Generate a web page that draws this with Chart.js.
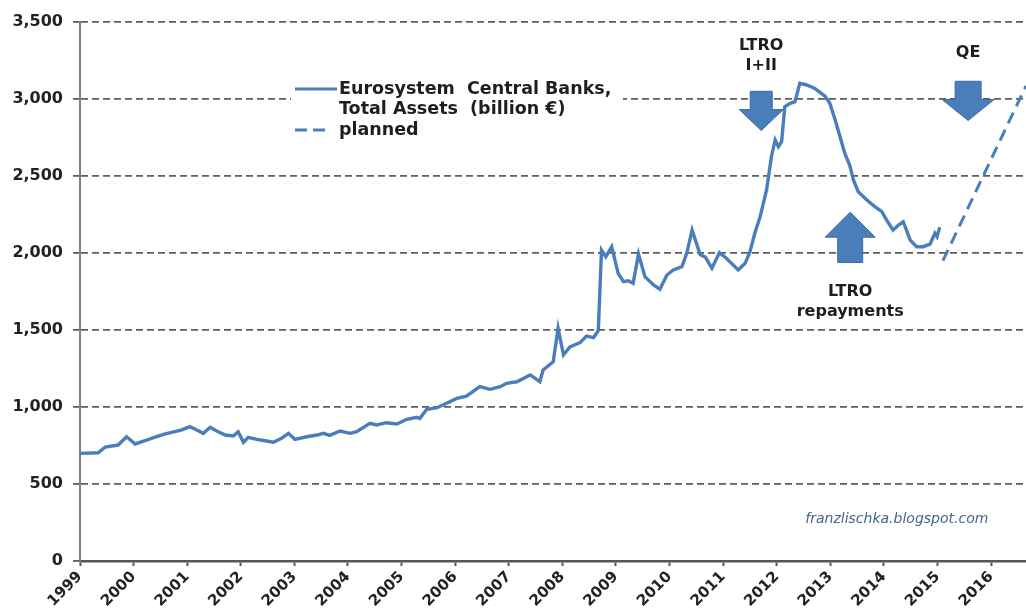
<!DOCTYPE html>
<html>
<head>
<meta charset="utf-8">
<script src="https://cdn.jsdelivr.net/npm/chart.js@4"></script>
<style>
  body { margin: 0; background: #fff; }
</style>
</head>
<body>
<canvas id="assetsChart" width="1026" height="616"></canvas>
<script>
// Eurosystem total assets, billion EUR
const years = [
    1999.00, 1999.34, 1999.47, 1999.71, 1999.87, 2000.03, 2000.21, 2000.40, 2000.59, 2000.77,
    2000.90, 2001.05, 2001.18, 2001.30, 2001.43, 2001.55, 2001.71, 2001.86, 2001.95, 2002.05,
    2002.14, 2002.30, 2002.45, 2002.61, 2002.76, 2002.89, 2003.01, 2003.23, 2003.42, 2003.54,
    2003.66, 2003.85, 2004.04, 2004.16, 2004.41, 2004.53, 2004.72, 2004.91, 2005.10, 2005.28,
    2005.34, 2005.47, 2005.65, 2005.84, 2006.03, 2006.21, 2006.46, 2006.65, 2006.84, 2006.96,
    2007.15, 2007.40, 2007.58, 2007.64, 2007.83, 2007.92, 2008.02, 2008.14, 2008.33, 2008.45,
    2008.58, 2008.67, 2008.73, 2008.81, 2008.92, 2009.04, 2009.14, 2009.23, 2009.32, 2009.42,
    2009.54, 2009.70, 2009.82, 2009.95, 2010.07, 2010.23, 2010.32, 2010.42, 2010.57, 2010.67,
    2010.79, 2010.93, 2011.06, 2011.28, 2011.41, 2011.50, 2011.59, 2011.69, 2011.81, 2011.90,
    2011.97, 2012.03, 2012.09, 2012.15, 2012.25, 2012.34, 2012.43, 2012.56, 2012.71, 2012.90,
    2012.99, 2013.09, 2013.18, 2013.27, 2013.36, 2013.43, 2013.52, 2013.68, 2013.83, 2013.96,
    2014.05, 2014.17, 2014.27, 2014.36, 2014.49, 2014.61, 2014.73, 2014.86, 2014.95, 2014.99, 2015.04
];
const totalAssets = [
    699, 703, 740, 753, 807, 760, 781, 805, 825, 840,
    851, 872, 851, 829, 868, 844, 818, 812, 840, 771,
    803, 790, 781, 771, 797, 829, 790, 807, 818, 829,
    816, 844, 829, 840, 894, 883, 898, 890, 920, 933,
    926, 985, 994, 1024, 1056, 1071, 1132, 1115, 1132, 1154,
    1164, 1208, 1164, 1240, 1294, 1511, 1338, 1390, 1418, 1460,
    1450, 1495, 2019, 1976, 2041, 1868, 1814, 1820, 1803, 1993,
    1846, 1792, 1765, 1857, 1890, 1911, 1998, 2149, 1990, 1972,
    1901, 2002, 1966, 1890, 1933, 2009, 2128, 2236, 2409, 2625,
    2734, 2690, 2723, 2950, 2972, 2983, 3102, 3091, 3069, 3019,
    2972, 2864, 2755, 2647, 2571, 2474, 2398, 2344, 2301, 2268,
    2214, 2149, 2182, 2203, 2084, 2041, 2041, 2058, 2128, 2106, 2167
];
const plannedYears = [2015.1, 2016.65];
const plannedAssets = [1950, 3085];

const seriesLabels = ['Eurosystem  Central Banks,\nTotal Assets  (billion €)', 'planned'];

const blue = '#4a7ebb';
const toPoints = (xs, ys) => xs.map((x, i) => ({ x: x, y: ys[i] }));

// arrows and labels, anchored in data units
const notes = [
    { x: 2011.71, lines: ['LTRO', 'I+II'], textY: [3344, 3214], tail: 3050, tip: 2795, shaft: 22, head: 44, headH: 21 },
    { x: 2015.57, lines: ['QE'], textY: [3299], tail: 3115, tip: 2860, shaft: 26, head: 52, headH: 21 },
    { x: 2013.37, lines: ['LTRO', 'repayments'], textY: [1747, 1617], tail: 1938, tip: 2265, shaft: 25, head: 50, headH: 25 }
];

function drawArrow(ctx, cx, yTail, yTip, shaftW, headW, headH) {
    const dir = yTip > yTail ? 1 : -1;
    const yBase = yTip - dir * headH;
    ctx.beginPath();
    ctx.moveTo(cx - shaftW / 2, yTail);
    ctx.lineTo(cx + shaftW / 2, yTail);
    ctx.lineTo(cx + shaftW / 2, yBase);
    ctx.lineTo(cx + headW / 2, yBase);
    ctx.lineTo(cx, yTip);
    ctx.lineTo(cx - headW / 2, yBase);
    ctx.lineTo(cx - shaftW / 2, yBase);
    ctx.closePath();
    ctx.fillStyle = blue;
    ctx.fill();
    ctx.strokeStyle = '#3c6aa3';
    ctx.lineWidth = 1;
    ctx.stroke();
}

const decorations = {
    id: 'decorations',
    afterDatasetsDraw(chart) {
        const { ctx, chartArea, scales: { x, y } } = chart;
        ctx.save();

        // legend box inside the plot
        const lx = chartArea.left + 215, ly = chartArea.top + 67;
        ctx.fillStyle = '#fff';
        ctx.fillRect(lx - 4, ly - 13, 332, 67);
        ctx.lineWidth = 3;
        ctx.strokeStyle = blue;
        ctx.beginPath();
        ctx.moveTo(lx, ly);
        ctx.lineTo(lx + 42, ly);
        ctx.stroke();
        ctx.setLineDash([12, 6]);
        ctx.beginPath();
        ctx.moveTo(lx, ly + 41);
        ctx.lineTo(lx + 36, ly + 41);
        ctx.stroke();
        ctx.setLineDash([]);
        ctx.fillStyle = '#1e1e1e';
        ctx.font = 'bold 17.5px "DejaVu Sans"';
        ctx.textAlign = 'left';
        ctx.textBaseline = 'middle';
        const first = seriesLabels[0].split('\n');
        ctx.fillText(first[0], lx + 44, ly);
        ctx.fillText(first[1], lx + 44, ly + 20);
        ctx.fillText(seriesLabels[1], lx + 44, ly + 41);

        // annotations
        ctx.font = 'bold 16px "DejaVu Sans"';
        ctx.textAlign = 'center';
        notes.forEach(n => {
            const cx = x.getPixelForValue(n.x);
            drawArrow(ctx, cx, y.getPixelForValue(n.tail), y.getPixelForValue(n.tip), n.shaft, n.head, n.headH);
            ctx.fillStyle = '#1e1e1e';
            n.lines.forEach((t, i) => ctx.fillText(t, cx, y.getPixelForValue(n.textY[i])));
        });

        // source
        ctx.font = 'italic 14px "DejaVu Sans"';
        ctx.fillStyle = '#44658a';
        ctx.fillText('franzlischka.blogspot.com', x.getPixelForValue(2014.24), y.getPixelForValue(273));
        ctx.restore();
    }
};

Chart.defaults.font.family = '"DejaVu Sans"';

new Chart(document.getElementById('assetsChart'), {
    type: 'line',
    data: {
        datasets: [{
            label: seriesLabels[0],
            data: toPoints(years, totalAssets),
            borderColor: blue,
            borderWidth: 3.4,
            pointRadius: 0,
            tension: 0
        }, {
            label: seriesLabels[1],
            data: toPoints(plannedYears, plannedAssets),
            borderColor: blue,
            borderWidth: 3,
            borderDash: [12, 7],
            pointRadius: 0
        }]
    },
    options: {
        responsive: false,
        animation: false,
        layout: { padding: { top: 22, right: 0, left: 0, bottom: 0 } },
        plugins: {
            legend: { display: false },
            tooltip: { enabled: false }
        },
        scales: {
            x: {
                type: 'linear',
                min: 1999,
                max: 2016.65,
                afterFit: s => { s.height = 55; },
                ticks: {
                    stepSize: 1,
                    includeBounds: false,
                    minRotation: 45,
                    maxRotation: 45,
                    padding: 2,
                    color: '#222',
                    font: { size: 15, weight: 'bold' },
                    callback: v => String(v)
                },
                grid: {
                    drawOnChartArea: false,
                    tickLength: 5,
                    tickColor: '#555',
                    tickWidth: 2
                },
                border: { color: '#555', width: 2.5 }
            },
            y: {
                min: 0,
                max: 3500,
                afterFit: s => { s.width = 80; },
                ticks: {
                    stepSize: 500,
                    padding: 10,
                    color: '#222',
                    font: { size: 16, weight: 'bold' },
                    callback: v => v.toLocaleString('en-US')
                },
                grid: {
                    color: '#5e5e5e',
                    lineWidth: 1.8,
                    tickLength: 7,
                    tickColor: '#5e5e5e'
                },
                border: { color: '#808080', width: 2, dash: [7, 4] }
            }
        }
    },
    plugins: [decorations]
});
</script>
</body>
</html>
